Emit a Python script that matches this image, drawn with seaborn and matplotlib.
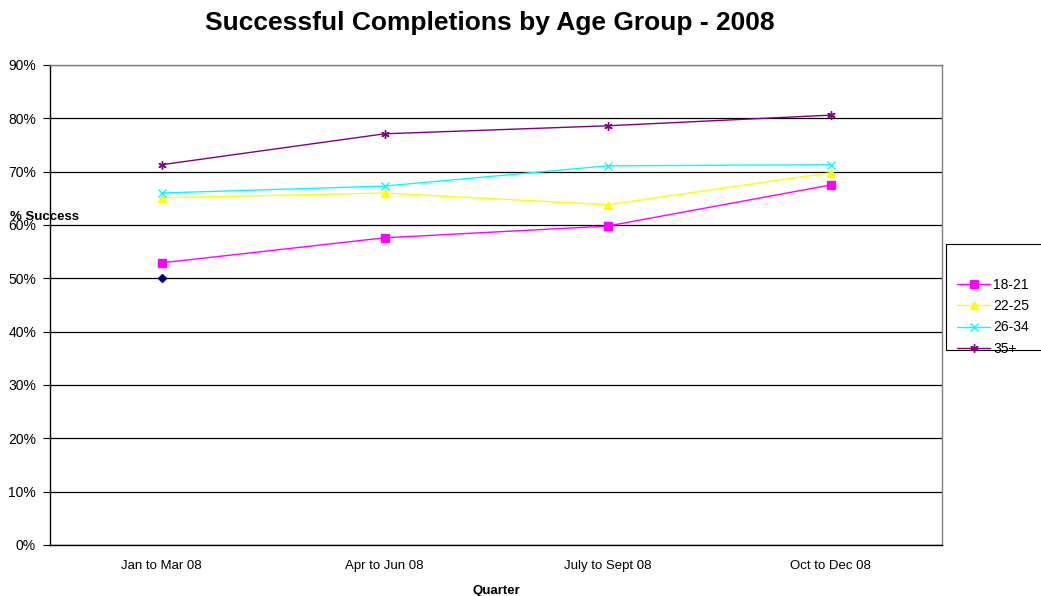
import matplotlib
matplotlib.use("Agg")
import matplotlib.pyplot as plt
import matplotlib.patches as mpatches
import seaborn as sns
import pandas as pd
import numpy as np

quarters = ["Jan to Mar 08", "Apr to Jun 08", "July to Sept 08", "Oct to Dec 08"]
groups = ["18-21", "22-25", "26-34", "35+"]
rate_18_21 = [52.9, 57.6, 59.8, 67.5]
rate_22_25 = [65.1, 66.0, 63.8, 69.8]
rate_26_34 = [66.0, 67.3, 71.1, 71.3]
rate_35_plus = [71.3, 77.1, 78.6, 80.6]
baseline = [50.0]

colors = ["#FF00FF", "#FFFF00", "#00FFFF", "#800080"]
markers = ["s", "^", "x", (6, 2, 0)]

rows = []
for g, vals in zip(groups, [rate_18_21, rate_22_25, rate_26_34, rate_35_plus]):
    for i, v in enumerate(vals):
        rows.append({"pos": i, "Quarter": quarters[i], "group": g, "value": v})
df = pd.DataFrame(rows)

sns.set_theme(style="white")
plt.rcParams["font.family"] = ["Liberation Sans", "DejaVu Sans"]
plt.rcParams["text.color"] = "black"
plt.rcParams["xtick.color"] = "black"
plt.rcParams["ytick.color"] = "black"
plt.rcParams["axes.labelcolor"] = "black"

fig = plt.figure(figsize=(10.41, 5.96), dpi=100)
ax = fig.add_axes([50 / 1041, 1 - 545 / 596, (942 - 50) / 1041, (545 - 65) / 596])

for g, c, m in zip(groups, colors, markers):
    sns.lineplot(
        data=df[df["group"] == g], x="pos", y="value",
        color=c, marker=m, linewidth=1, markersize=6,
        markeredgewidth=1, markeredgecolor=c,
        ax=ax, legend=False,
    )
# marker-only series at the first quarter
ax.plot(range(len(baseline)), baseline, linestyle="none", marker="D",
        color="#000080", markersize=4.5)

ax.set_xlim(-0.5, 3.5)
ax.set_ylim(0, 90)
ax.set_yticks(np.arange(0, 91, 10))
ax.set_yticklabels([f"{v}%" for v in range(0, 91, 10)], fontsize=10)
ax.yaxis.grid(True, color="#000000", linewidth=0.9)
ax.set_axisbelow(True)

ax.set_xticks(np.arange(-0.5, 3.6, 1.0))
ax.set_xticklabels([])
ax.set_xticks(range(4), minor=True)
ax.set_xticklabels(quarters, minor=True, fontsize=9.5)
ax.tick_params(axis="x", which="major", direction="in", length=4, color="black", width=0.8)
ax.tick_params(axis="x", which="minor", length=0, pad=11)
ax.tick_params(axis="y", which="major", direction="out", length=5, color="black",
               width=0.8, pad=5, left=True)

for side in ["left", "bottom"]:
    ax.spines[side].set_color("black")
    ax.spines[side].set_linewidth(1)
for side in ["top", "right"]:
    ax.spines[side].set_color("#808080")
    ax.spines[side].set_linewidth(1)

ax.set_xlabel("Quarter", fontsize=9.5, fontweight="bold", labelpad=9)
ax.set_ylabel("")
fig.text(10 / 1041, 1 - 217 / 596, "% Success", fontsize=9.5, fontweight="bold",
         ha="left", va="center")

fig.suptitle("Successful Completions by Age Group - 2008", fontsize=19,
             fontweight="bold", x=490 / 1041, y=1 - 23 / 596, va="center")

# legend frame and entries
fig.patches.append(mpatches.Rectangle(
    (946 / 1041, 1 - 350 / 596), 120 / 1041, 106 / 596,
    transform=fig.transFigure, facecolor="white", edgecolor="black",
    linewidth=0.8, zorder=0))
handles = [plt.Line2D([], [], color=c, marker=m, markersize=6, linewidth=1)
           for c, m in zip(colors, markers)]
fig.legend(handles, groups, loc="upper left",
           bbox_to_anchor=(957 / 1041, 1 - 278 / 596), frameon=False,
           fontsize=10, handlelength=2.4, labelspacing=0.52,
           handletextpad=0.2, borderpad=0, borderaxespad=0)

fig.savefig("out.png", dpi=100)
